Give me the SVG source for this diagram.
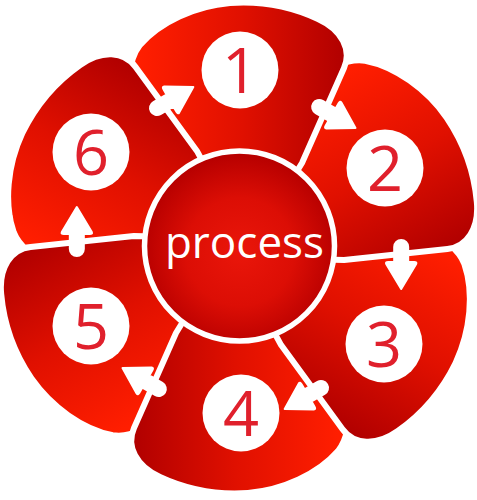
<svg xmlns="http://www.w3.org/2000/svg" xmlns:xlink="http://www.w3.org/1999/xlink" width="477" height="500" viewBox="0 0 477 500">
  <defs>
    <linearGradient id="petalGrad" gradientUnits="userSpaceOnUse" x1="140" y1="0" x2="345" y2="0">
      <stop offset="0" stop-color="#ff1e00"/>
      <stop offset="0.5" stop-color="#e01000"/>
      <stop offset="1" stop-color="#b10000"/>
    </linearGradient>
    <radialGradient id="hubGrad" gradientUnits="userSpaceOnUse" cx="240" cy="252" r="98">
      <stop offset="0" stop-color="#ea160a"/>
      <stop offset="0.55" stop-color="#dc0e05"/>
      <stop offset="1" stop-color="#b70000"/>
    </radialGradient>
    <path id="petal" d="M 272,212 L 302,163 L 344,68 C 352,50 342,30 318,19 C 288,5 258,1 230,3 C 195,6 160,22 140,45 C 122,68 128,108 163,168 L 205,220 Z"/>
    <path id="arrow" d="M 0,-26 L 15,-1 Q 16,1 13,1 L 7,1 L 7,16 A 7 7 0 0 1 -7,16 L -7,1 L -13,1 Q -16,1 -15,-1 Z"/>
    <clipPath id="clipTL">
      <rect x="0" y="0" width="239" height="215"/>
    </clipPath>
  </defs>
  <style>
    .petal { fill: url(#petalGrad); stroke: #ffffff; stroke-width: 6; stroke-linejoin: round; }
    .badge { fill: #ffffff; }
    .num { font-family: "Open Sans", "Liberation Sans", sans-serif; font-size: 63px; fill: #e0202c; text-anchor: middle; }
    .hub { fill: url(#hubGrad); stroke: #ffffff; stroke-width: 5.5; }
    .hubtext { font-family: "Open Sans", "Liberation Sans", sans-serif; font-size: 44px; fill: #ffffff; text-anchor: middle; }
    .arrow { fill: #ffffff; stroke: #ffffff; stroke-width: 2; stroke-linejoin: round; }
  </style>
  <rect x="0" y="0" width="477" height="500" fill="#ffffff"/>

  <g id="node6-base">
    <use xlink:href="#petal" href="#petal" class="petal" transform="rotate(300 239 248)"/>
  </g>
  <g id="node5">
    <use xlink:href="#petal" href="#petal" class="petal" transform="rotate(240 239 248)"/>
    <circle class="badge" cx="91" cy="326" r="38.5"/>
    <text class="num" x="91" y="349">5</text>
  </g>
  <g id="node4">
    <use xlink:href="#petal" href="#petal" class="petal" transform="rotate(180 239 248)"/>
    <circle class="badge" cx="241" cy="413" r="38.5"/>
    <text class="num" x="241" y="436">4</text>
  </g>
  <g id="node3">
    <use xlink:href="#petal" href="#petal" class="petal" transform="rotate(120 239 248)"/>
    <circle class="badge" cx="384" cy="344" r="38.5"/>
    <text class="num" x="384" y="367">3</text>
  </g>
  <g id="node2">
    <use xlink:href="#petal" href="#petal" class="petal" transform="rotate(60 239 248)"/>
    <circle class="badge" cx="385" cy="168" r="38.5"/>
    <text class="num" x="385" y="191">2</text>
  </g>
  <g id="node1">
    <use xlink:href="#petal" href="#petal" class="petal"/>
    <circle class="badge" cx="240" cy="70" r="38.5"/>
    <text class="num" x="240" y="93">1</text>
  </g>
  <g id="node6">
    <g clip-path="url(#clipTL)">
      <use xlink:href="#petal" href="#petal" class="petal" transform="rotate(300 239 248)"/>
    </g>
    <circle class="badge" cx="91" cy="152" r="38.5"/>
    <text class="num" x="91" y="175">6</text>
  </g>

  <g id="hub">
    <circle class="hub" cx="239.5" cy="246" r="95"/>
    <text class="hubtext" x="244.5" y="258">process</text>
  </g>

  <g id="connectors">
    <use xlink:href="#arrow" href="#arrow" class="arrow" transform="translate(333 115) rotate(120)"/>
    <use xlink:href="#arrow" href="#arrow" class="arrow" transform="rotate(60 239 248) translate(333 115) rotate(120)"/>
    <use xlink:href="#arrow" href="#arrow" class="arrow" transform="rotate(120 239 248) translate(333 115) rotate(120)"/>
    <use xlink:href="#arrow" href="#arrow" class="arrow" transform="rotate(180 239 248) translate(333 115) rotate(120)"/>
    <use xlink:href="#arrow" href="#arrow" class="arrow" transform="rotate(240 239 248) translate(333 115) rotate(120)"/>
    <use xlink:href="#arrow" href="#arrow" class="arrow" transform="rotate(300 239 248) translate(333 115) rotate(120)"/>
  </g>
</svg>
